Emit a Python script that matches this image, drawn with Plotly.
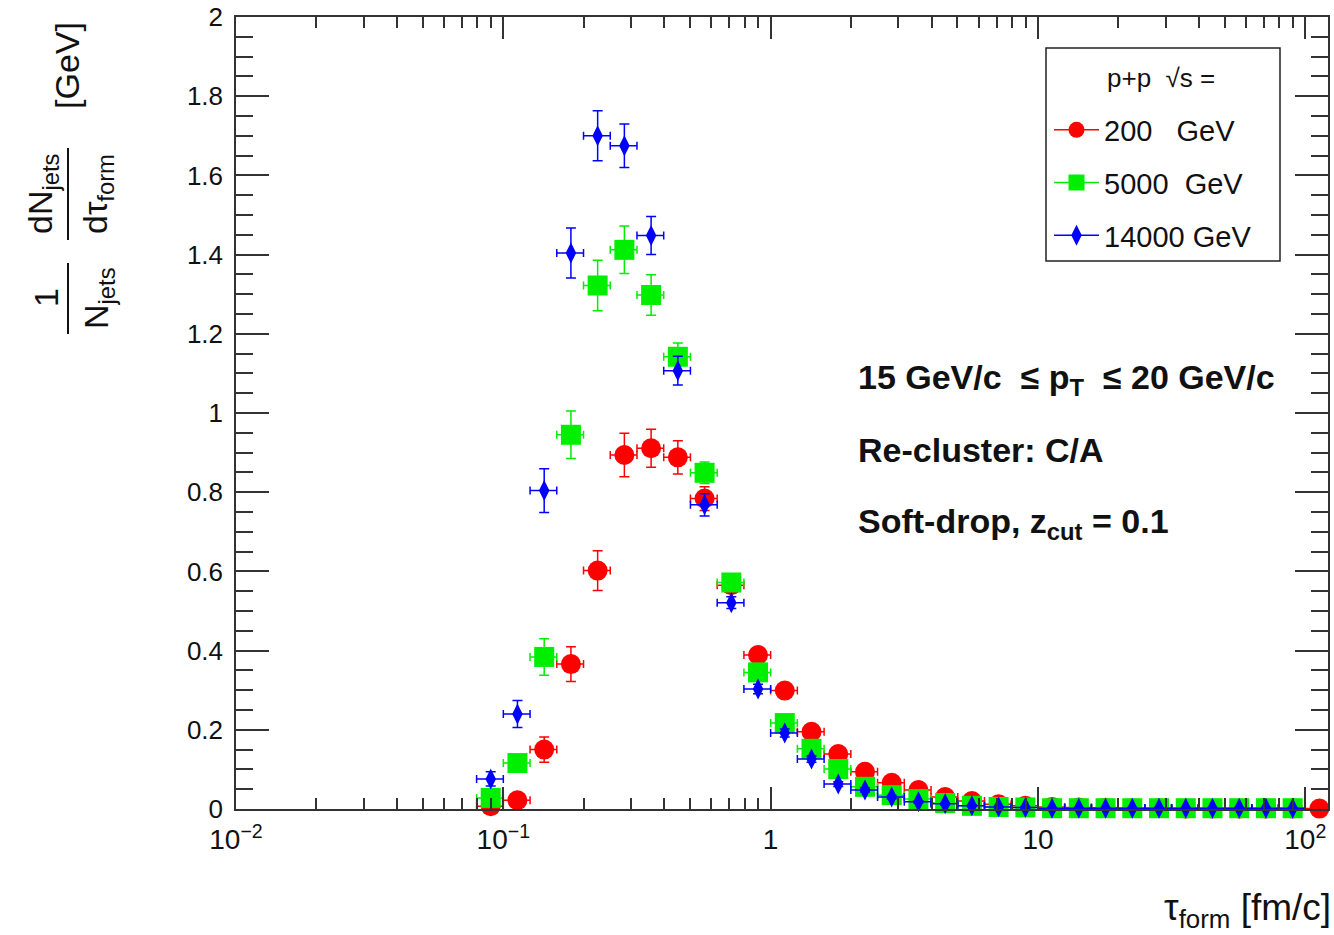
import plotly.graph_objects as go

# ---------------- data ----------------
# log10 bin edges of the tau_form histogram
bin_edges_log = [-1.1, -1.0, -0.9, -0.8, -0.7, -0.6, -0.5, -0.4, -0.3, -0.2, -0.1,
                 0.0, 0.1, 0.2, 0.3, 0.4, 0.5, 0.6, 0.7, 0.8, 0.9, 1.0,
                 1.1, 1.2, 1.3, 1.4, 1.5, 1.6, 1.7, 1.8, 1.9, 2.0, 2.1]

red_y = [0.007, 0.022, 0.150, 0.366, 0.602, 0.894, 0.911, 0.888, 0.784, 0.565,
         0.389, 0.299, 0.195, 0.139, 0.094, 0.066, 0.048, 0.030, 0.020, 0.012,
         0.008, 0.005, 0.004, 0.003, 0.002, 0.002, 0.001, 0.001, 0.001, 0.001,
         0.001, 0.001]
red_err = [0.005, 0.010, 0.032, 0.044, 0.050, 0.055, 0.048, 0.042, 0.030, 0.020,
           0.015, 0.012, 0.010, 0.008, 0.006, 0.005, 0.004, 0.003, 0.002, 0.002,
           0.002, 0.002, 0.002, 0.002, 0.002, 0.002, 0.002, 0.002, 0.002, 0.002,
           0.002, 0.002]

green_y = [0.028, 0.116, 0.384, 0.945, 1.322, 1.412, 1.298, 1.142, 0.849, 0.572,
           0.345, 0.217, 0.152, 0.101, 0.056, 0.035, 0.025, 0.015, 0.008, 0.005,
           0.004, 0.002, 0.002, 0.002, 0.002, 0.002, 0.002, 0.002, 0.002, 0.002,
           0.002]
green_err = [0.010, 0.020, 0.046, 0.060, 0.064, 0.060, 0.051, 0.035, 0.027, 0.018,
             0.013, 0.010, 0.008, 0.006, 0.005, 0.004, 0.003, 0.002, 0.002, 0.002,
             0.002, 0.002, 0.002, 0.002, 0.002, 0.002, 0.002, 0.002, 0.002, 0.002,
             0.002]

blue_y = [0.076, 0.240, 0.804, 1.404, 1.700, 1.675, 1.448, 1.107, 0.768, 0.521,
          0.303, 0.192, 0.126, 0.063, 0.048, 0.030, 0.018, 0.013, 0.008, 0.005,
          0.004, 0.002, 0.002, 0.002, 0.002, 0.002, 0.002, 0.002, 0.002, 0.002,
          0.002]
blue_err = [0.018, 0.034, 0.055, 0.063, 0.063, 0.055, 0.048, 0.036, 0.028, 0.015,
            0.012, 0.010, 0.008, 0.006, 0.005, 0.004, 0.003, 0.002, 0.002, 0.002,
            0.002, 0.002, 0.002, 0.002, 0.002, 0.002, 0.002, 0.002, 0.002, 0.002,
            0.002]

series_names = ["200\u00a0\u00a0\u00a0GeV", "5000\u00a0\u00a0GeV", "14000 GeV"]
series_colors = ["#ff0000", "#00ee00", "#0000ff"]

x_tick_vals = [0.01, 0.1, 1, 10, 100]
x_tick_text = ["10<sup>\u22122</sup>", "10<sup>\u22121</sup>", "1", "10", "10<sup>2</sup>"]

# ---------------- helpers ----------------
lo = [10 ** e for e in bin_edges_log[:-1]]
hi = [10 ** e for e in bin_edges_log[1:]]
centers = [(a + b) / 2 for a, b in zip(lo, hi)]
err_plus = [b - c for b, c in zip(hi, centers)]
err_minus = [c - a for a, c in zip(lo, centers)]

FONT = "Liberation Sans, Arial, Helvetica, sans-serif"

fig = go.Figure()

specs = [
    (red_y, red_err, "circle", 20, series_colors[0], series_names[0]),
    (green_y, green_err, "square", 20, series_colors[1], series_names[1]),
    (blue_y, blue_err, "diamond-tall", 15, series_colors[2], series_names[2]),
]

for i, (yv, ye, sym, size, col, name) in enumerate(specs):
    n = len(yv)
    fig.add_trace(go.Scatter(
        x=centers[:n], y=yv, mode="markers",
        marker=dict(symbol=sym, size=size, color=col, line=dict(width=0)),
        error_x=dict(type="data", array=err_plus[:n], arrayminus=err_minus[:n],
                     symmetric=False, color=col, thickness=1.5, width=4),
        error_y=dict(type="data", array=ye, color=col, thickness=1.5, width=5),
        cliponaxis=False, showlegend=False, name=name,
    ))

# legend-only entries (marker + line like the ROOT legend)
for i, (yv, ye, sym, size, col, name) in enumerate(specs):
    fig.add_trace(go.Scatter(
        x=[None], y=[None], mode="lines+markers", name=name,
        marker=dict(symbol=sym, size=size, color=col),
        line=dict(color=col, width=1.5),
        legendgroup="g%d" % i, showlegend=True,
    ))

minor_x = [k * 10 ** d for d in range(-2, 3) for k in range(2, 10)]

fig.update_xaxes(
    type="log", range=[-2, 2.085],
    tickmode="array", tickvals=x_tick_vals, ticktext=x_tick_text,
    ticks="inside", ticklen=22, tickwidth=1.5, tickcolor="#333",
    minor=dict(tickmode="array", tickvals=minor_x, ticks="inside", ticklen=11,
               tickwidth=1.5, tickcolor="#333", showgrid=False),
    showline=True, linecolor="#333", linewidth=1.5, mirror="allticks",
    showgrid=False, zeroline=False, ticklabelstandoff=5,
    tickfont=dict(family=FONT, size=28, color="#111"),
)
fig.update_yaxes(
    range=[0, 2], dtick=0.2, tick0=0,
    ticks="inside", ticklen=33, tickwidth=1.5, tickcolor="#333",
    minor=dict(dtick=0.05, ticks="inside", ticklen=17, tickwidth=1.5,
               tickcolor="#333", showgrid=False),
    showline=True, linecolor="#333", linewidth=1.5, mirror="allticks",
    showgrid=False, zeroline=False, ticklabelstandoff=6,
    tickfont=dict(family=FONT, size=26, color="#111"),
)

L, R, T, B = 236, 6, 17, 126
W, H = 1334, 935
PW, PH = W - L - R, H - T - B


def px(x):
    return (x - L) / PW


def py(y):
    return (H - B - y) / PH


annots = []
# plot text
txt_font = dict(family=FONT, size=34, color="#111")
annots.append(dict(x=px(856), y=py(379), text="<b>15 GeV/c \u00a0\u2264 p<sub>T</sub> \u00a0\u2264 20 GeV/c</b>",
                   xanchor="left", yanchor="middle", font=txt_font))
annots.append(dict(x=px(856), y=py(450), text="<b>Re-cluster: C/A</b>",
                   xanchor="left", yanchor="middle", font=txt_font))
annots.append(dict(x=px(856), y=py(523), text="<b>Soft-drop, z<sub>cut</sub> = 0.1</b>",
                   xanchor="left", yanchor="middle", font=txt_font))

# x-axis title
annots.append(dict(x=px(1333), y=py(910), text="\u03c4<sub>form</sub> [fm/c]",
                   xanchor="right", yanchor="middle",
                   font=dict(family=FONT, size=37, color="#111")))

# y-axis title built as rotated fractions
yt_font = dict(family=FONT, size=34, color="#111")
annots.append(dict(x=px(46), y=py(298), text="1", textangle=-90,
                   xanchor="center", yanchor="middle", font=yt_font))
annots.append(dict(x=px(98), y=py(298), text="N<sub>jets</sub>", textangle=-90,
                   xanchor="center", yanchor="middle", font=yt_font))
annots.append(dict(x=px(42), y=py(194), text="dN<sub>jets</sub>", textangle=-90,
                   xanchor="center", yanchor="middle", font=yt_font))
annots.append(dict(x=px(97), y=py(194), text="d\u03c4<sub>form</sub>", textangle=-90,
                   xanchor="center", yanchor="middle", font=yt_font))
annots.append(dict(x=px(67), y=py(66), text="[GeV]", textangle=-90,
                   xanchor="center", yanchor="middle", font=yt_font))

# legend title
annots.append(dict(x=px(1161), y=py(78), text="p+p \u00a0\u221as =",
                   xanchor="center", yanchor="middle",
                   font=dict(family=FONT, size=26, color="#111")))

for a in annots:
    a.update(xref="paper", yref="paper", showarrow=False)

shapes = [
    dict(type="line", xref="paper", yref="paper", x0=px(68), x1=px(68),
         y0=py(148), y1=py(240), line=dict(color="#111", width=2)),
    dict(type="line", xref="paper", yref="paper", x0=px(68), x1=px(68),
         y0=py(263), y1=py(334), line=dict(color="#111", width=2)),
    # legend box
    dict(type="rect", xref="paper", yref="paper", x0=px(1046), x1=px(1280),
         y0=py(48), y1=py(261), line=dict(color="#222", width=1.5),
         fillcolor="white", layer="below"),
]

fig.update_layout(
    width=W, height=H,
    margin=dict(l=L, r=R, t=T, b=B, autoexpand=False),
    paper_bgcolor="white", plot_bgcolor="rgba(0,0,0,0)",
    annotations=annots, shapes=shapes,
    legend=dict(
        x=px(1049), y=py(104.5), xanchor="left", yanchor="top",
        bgcolor="rgba(0,0,0,0)", borderwidth=0,
        font=dict(family=FONT, size=29, color="#111"),
        traceorder="grouped", tracegroupgap=12, itemwidth=45,
    ),
)

fig.write_html("out.html", config={"displayModeBar": False},
               post_script="document.body.style.margin='0px';")
